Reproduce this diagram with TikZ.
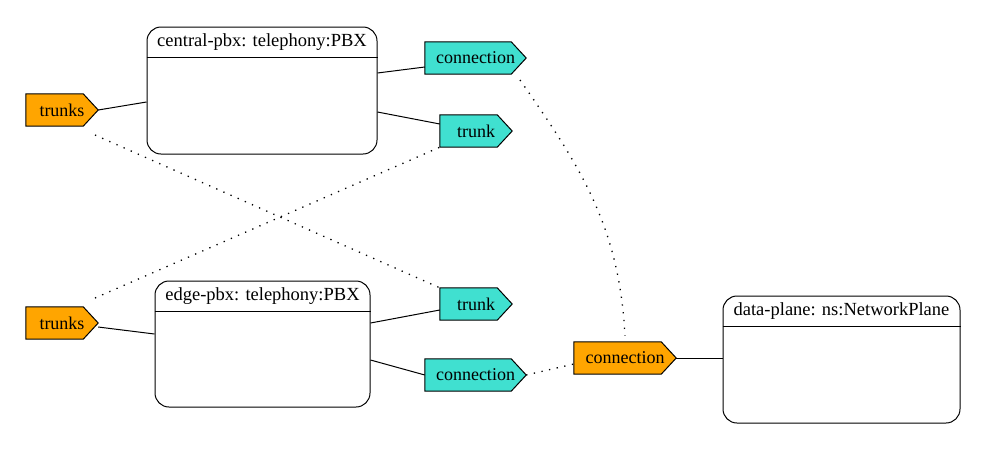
\documentclass[tikz,border=0pt]{standalone}
\usepackage{fontspec}
\setmainfont{Liberation Serif}
\usetikzlibrary{positioning,backgrounds}
\definecolor{portorange}{HTML}{FFA500}
\definecolor{portcyan}{HTML}{40E0D0}
\tikzset{
    %Define style for component boxes
    compbox/.style={
           rectangle,
           rounded corners=14pt,
           draw=black, line width=1pt},
    %Define style for box titles
    comptitle/.style={
           anchor=north,
           minimum height=31pt,
           inner sep=0pt,
           font=\fontsize{18.5}{20}\selectfont},
    %Define style for ports (outline drawn behind)
    port/.style={
           rectangle,
           minimum height=32pt,
           inner sep=0pt,
           font=\fontsize{18}{20}\selectfont},
    portshape/.style={draw=black, line width=1pt},
    % Define link styles
    wire/.style={line width=1pt},
    dotwire/.style={line width=1.3pt, dash pattern=on 1.3pt off 6.5pt}
}
\begin{document}
\begin{tikzpicture}[x=1pt,y=-1pt]
         \useasboundingbox (0,0) rectangle (987,451);
         %boxes
          \node[compbox, minimum width=230pt, minimum height=127pt] (central) at (262,90.5) {};
          \node[comptitle] (centraltitle) at (central.north) {central-pbx: telephony:PBX};
          \draw[wire] (central.west |- centraltitle.south) -- (central.east |- centraltitle.south);
          \node[compbox, minimum width=215pt, minimum height=126pt] (edge) at (262.5,344) {};
          \node[comptitle] (edgetitle) at (edge.north) {edge-pbx: telephony:PBX};
          \draw[wire] (edge.west |- edgetitle.south) -- (edge.east |- edgetitle.south);
          \node[compbox, minimum width=237pt, minimum height=127pt] (data) at (841.5,359.5) {};
          \node[comptitle] (datatitle) at (data.north) {data-plane: ns:NetworkPlane};
          \draw[wire] (data.west |- datatitle.south) -- (data.east |- datatitle.south);
         %ports
          \node[port, minimum width=72pt] (trunksc) at (62,110) {trunks};
          \node[port, minimum width=72pt] (trunkse) at (62,323) {trunks};
          \node[port, minimum width=101pt] (conntop) at (475.5,58) {connection};
          \node[port, minimum width=72pt] (trunktop) at (476,131) {trunk};
          \node[port, minimum width=72pt] (trunkbot) at (476,304) {trunk};
          \node[port, minimum width=101pt] (connbot) at (475.5,375) {connection};
          \node[port, minimum width=102pt] (connout) at (625,358) {connection};
          \begin{scope}[on background layer]
            \foreach \p/\c in {trunksc/portorange, trunkse/portorange, conntop/portcyan,
                trunktop/portcyan, trunkbot/portcyan, connbot/portcyan, connout/portorange}
              \draw[portshape, fill=\c] (\p.north west) -- ([xshift=-15pt]\p.north east)
                -- (\p.east) -- ([xshift=-15pt]\p.south east) -- (\p.south west) -- cycle;
          \end{scope}
         %links
          \draw[wire] (trunksc.east) -- ([yshift=-11.5pt]central.west);
          \draw[wire] ([yshift=17.5pt]central.east) -- ([yshift=-9pt]conntop.west);
          \draw[wire] ([yshift=-21.5pt]central.east) -- ([yshift=7pt]trunktop.west);
          \draw[wire] ([yshift=-4pt]trunkse.east) -- ([yshift=10pt]edge.west);
          \draw[wire] ([yshift=21pt]edge.east) -- ([yshift=-6pt]trunkbot.west);
          \draw[wire] ([yshift=-16pt]edge.east) -- (connbot.west);
          \draw[wire] (connout.east) -- (connout.east -| data.west);
          \draw[dotwire] ([shift={(33pt,-25pt)}]trunksc.center) -- (trunkbot.north west);
          \draw[dotwire] ([shift={(33pt,25pt)}]trunkse.center) -- (trunktop.south west);
          \draw[dotwire] ([shift={(44.5pt,-22pt)}]conntop.center) to[out=-55,in=93] ([yshift=6pt]connout.north);
          \draw[dotwire] (connbot.east) -- ([yshift=-6pt]connout.west);
\end{tikzpicture}
\end{document}
